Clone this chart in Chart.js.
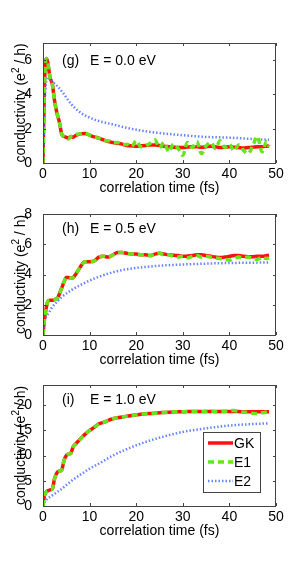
<!DOCTYPE html>
<html>
<head>
<meta charset="utf-8">
<script src="https://cdn.jsdelivr.net/npm/chart.js"></script>
<style>
  body { margin: 0; background: #fff; width: 305px; height: 571px; position: relative; overflow: hidden; }
  canvas { position: absolute; left: 0; }
</style>
</head>
<body>
<canvas id="panelG" width="305" height="200" style="top:0px"></canvas>
<canvas id="panelH" width="305" height="170" style="top:200px"></canvas>
<canvas id="panelI" width="305" height="201" style="top:370px"></canvas>
<script>
  // time axis (fs) shared by GK and E1, coarser one for E2
  const time = [0, 0.3, 0.7, 1, 1.5, 2, 2.5, 3, 3.5, 4, 4.5, 5, 5.5, 6, 6.5, 7, 8, 9, 10, 11, 12, 13, 14, 15, 16, 17, 18, 19,
    20, 21, 22, 23, 24, 25, 26, 27, 28, 29, 30, 31, 32, 33, 34, 35, 36, 37, 38, 39, 40, 41, 42, 43, 44, 45, 46, 47, 48, 48.5];
  const timeE2 = [0, 0.3, 0.7, 1, 1.5, 2, 3, 4, 6, 8, 10, 12, 15, 18, 22, 26, 30, 35, 40, 45, 48.5];

  // (g) E = 0.0 eV
  const gkG = [0, 4.5, 6.1, 5.9, 5.0, 4.6, 3.6, 2.9, 2.4, 1.7, 1.55, 1.5, 1.45, 1.55, 1.5, 1.6, 1.7, 1.72, 1.62, 1.52, 1.45, 1.35, 1.25, 1.2, 1.15, 1.1, 1.02, 1.0,
    0.98, 1.0, 1.02, 1.05, 1.05, 1.02, 0.98, 0.95, 0.92, 0.9, 0.9, 0.93, 0.95, 0.95, 0.92, 0.95, 0.97, 0.95, 0.9, 0.92, 0.95, 0.92, 0.9, 0.88, 0.9, 0.92, 0.95, 0.95, 0.98, 1.0];
  const e1G = [0, 4.5, 6.1, 5.9, 5.0, 4.6, 3.6, 2.9, 2.4, 1.7, 1.55, 1.45, 1.4, 1.55, 1.55, 1.65, 1.7, 1.75, 1.62, 1.52, 1.45, 1.3, 1.3, 1.2, 1.2, 1.05, 1.1, 0.95,
    1.3, 0.95, 1.0, 1.15, 1.35, 0.9, 1.2, 0.65, 1.1, 0.85, 0.45, 1.2, 0.9, 1.25, 0.55, 1.0, 1.2, 0.85, 1.3, 0.9, 1.1, 0.7, 1.05, 0.75, 0.55, 1.0, 1.55, 0.65, 1.25, 0.95];
  const e2G = [0, 3.0, 4.8, 5.0, 4.9, 4.75, 4.5, 4.2, 3.45, 2.95, 2.65, 2.45, 2.25, 2.05, 1.85, 1.72, 1.62, 1.52, 1.48, 1.4, 1.35];

  // (h) E = 0.5 eV
  const gkH = [0, 1.0, 1.8, 2.2, 2.3, 2.3, 2.35, 2.4, 2.7, 3.1, 3.5, 3.8, 3.8, 3.75, 3.8, 4.0, 4.5, 4.85, 4.85, 4.9, 5.15, 5.2, 5.15, 5.3, 5.45, 5.45, 5.4, 5.35,
    5.35, 5.3, 5.3, 5.25, 5.35, 5.4, 5.35, 5.3, 5.28, 5.25, 5.2, 5.22, 5.25, 5.3, 5.3, 5.25, 5.2, 5.15, 5.12, 5.15, 5.2, 5.25, 5.25, 5.2, 5.18, 5.18, 5.2, 5.2, 5.25, 5.28];
  const e1H = [0, 1.0, 1.8, 2.2, 2.3, 2.3, 2.35, 2.4, 2.7, 3.1, 3.5, 3.8, 3.8, 3.75, 3.8, 4.0, 4.5, 4.85, 4.85, 4.9, 5.15, 5.2, 5.15, 5.3, 5.45, 5.45, 5.4, 5.35,
    5.35, 5.3, 5.3, 5.25, 5.35, 5.4, 5.3, 5.3, 5.2, 5.15, 5.2, 5.1, 5.2, 5.25, 5.15, 5.2, 5.15, 5.1, 5.05, 5.0, 4.95, 5.05, 5.15, 5.1, 5.15, 5.05, 5.0, 5.15, 5.05, 5.1];
  const e2H = [0, 0.9, 1.2, 1.35, 1.6, 1.85, 2.2, 2.5, 2.95, 3.3, 3.6, 3.85, 4.15, 4.35, 4.5, 4.6, 4.66, 4.72, 4.76, 4.78, 4.8];

  // (i) E = 1.0 eV
  const gkI = [0, 2.0, 2.8, 3.0, 3.2, 3.4, 5.5, 6.6, 6.9, 7.1, 9.0, 10.0, 10.3, 10.5, 11.8, 12.3, 13.3, 14.2, 15.0, 15.6, 16.3, 16.6, 17.0, 17.3, 17.5, 17.65, 17.8, 17.95,
    18.1, 18.2, 18.3, 18.35, 18.4, 18.5, 18.55, 18.6, 18.65, 18.7, 18.7, 18.72, 18.72, 18.75, 18.75, 18.75, 18.75, 18.75, 18.75, 18.75, 18.75, 18.72, 18.72, 18.7, 18.7, 18.7, 18.7, 18.7, 18.7, 18.7];
  const e1I = [0, 2.0, 2.8, 3.0, 3.2, 3.4, 5.5, 6.6, 6.9, 7.1, 9.0, 10.0, 10.3, 10.5, 11.8, 12.3, 13.3, 14.2, 15.0, 15.6, 16.3, 16.6, 17.0, 17.3, 17.5, 17.65, 17.8, 17.95,
    18.1, 18.2, 18.3, 18.35, 18.4, 18.5, 18.55, 18.6, 18.65, 18.7, 18.7, 18.72, 18.72, 18.75, 18.7, 18.75, 18.85, 18.7, 18.75, 18.8, 18.9, 18.95, 18.7, 18.6, 18.55, 18.4, 18.3, 18.5, 18.6, 18.55];
  const e2I = [0, 0.8, 1.2, 1.5, 1.8, 2.1, 2.75, 3.4, 4.9, 6.2, 7.4, 8.4, 10.0, 11.3, 12.7, 13.8, 14.7, 15.4, 15.95, 16.25, 16.4];

  const xTicks = [0, 10, 20, 30, 40, 50];
  const yTicksG = [0, 2, 4, 6];
  const yTicksH = [0, 2, 4, 6, 8];
  const yTicksI = [0, 5, 10, 15, 20];
  const seriesNames = ['GK', 'E1', 'E2'];
  const xTitle = 'correlation time (fs)';
  const yTitle = 'conductivity (e';

  const RED = '#ff1010';
  const GREEN = '#66e61a';
  const BLUE = 'rgba(80,110,255,0.85)';
  const FONT = "'Liberation Sans', Arial, sans-serif";

  Chart.defaults.font.family = FONT;
  Chart.defaults.font.size = 14;
  Chart.defaults.color = '#000';

  function pts(xs, ys) {
    return ys.map((y, i) => ({ x: xs[i], y: y }));
  }

  // box around the plot, inward ticks, axis texts, panel caption and optional legend
  const framePlugin = {
    id: 'frame',
    afterDraw(chart, args, opts) {
      const ctx = chart.ctx, a = chart.chartArea;
      const xs = chart.scales.x, ys = chart.scales.y;
      ctx.save();
      ctx.strokeStyle = '#444';
      ctx.lineWidth = 1;
      ctx.strokeRect(Math.round(a.left) + 0.5, Math.round(a.top) + 0.5, Math.round(a.right - a.left) - 1, Math.round(a.bottom - a.top));
      ctx.beginPath();
      xTicks.forEach(v => {
        const px = Math.round(xs.getPixelForValue(v)) + 0.5;
        ctx.moveTo(px, a.bottom); ctx.lineTo(px, a.bottom - 3);
        ctx.moveTo(px, a.top); ctx.lineTo(px, a.top + 3);
      });
      ys.ticks.forEach(t => {
        const py = Math.round(ys.getPixelForValue(t.value)) + 0.5;
        ctx.moveTo(a.left, py); ctx.lineTo(a.left + 3, py);
        ctx.moveTo(a.right, py); ctx.lineTo(a.right - 3, py);
      });
      ctx.stroke();

      ctx.fillStyle = '#000';
      ctx.font = '14px ' + FONT;
      ctx.textBaseline = 'middle';

      // x tick labels and x title
      ctx.textAlign = 'center';
      xTicks.forEach(v => ctx.fillText(String(v), xs.getPixelForValue(v), a.bottom + 11));
      ctx.fillText(xTitle, (a.left + a.right) / 2, a.bottom + 25);

      // y title, rotated, with superscript 2
      ctx.save();
      ctx.translate(21, (a.top + a.bottom) / 2);
      ctx.rotate(-Math.PI / 2);
      const w1 = ctx.measureText(yTitle).width;
      const w3 = ctx.measureText(' / h)').width;
      ctx.font = '10px ' + FONT;
      const w2 = ctx.measureText('2').width;
      const start = -(w1 + w2 + w3) / 2;
      ctx.textAlign = 'left';
      ctx.fillText('2', start + w1, -5);
      ctx.font = '14px ' + FONT;
      ctx.fillText(yTitle, start, 0);
      ctx.fillText(' / h)', start + w1 + w2, 0);
      ctx.restore();

      ctx.textAlign = 'left';
      ctx.fillText(opts.tag, a.left + 19, a.top + opts.captionY);
      ctx.fillText(opts.caption, a.left + 47, a.top + opts.captionY);

      if (opts.legend) {
        const bx = a.right - 73, by = a.top + 47, bw = 57, bh = 60;
        ctx.fillStyle = '#fff';
        ctx.fillRect(bx, by, bw, bh);
        ctx.strokeStyle = '#444';
        ctx.strokeRect(bx + 0.5, by + 0.5, bw, bh);
        chart.data.datasets.forEach((ds, i) => {
          const y = by + 11 + i * 19;
          ctx.beginPath();
          ctx.strokeStyle = ds.borderColor;
          ctx.lineWidth = ds.borderWidth;
          ctx.setLineDash(ds.borderDash || []);
          ctx.moveTo(bx + 5, y); ctx.lineTo(bx + 30, y);
          ctx.stroke();
          ctx.setLineDash([]);
          ctx.fillStyle = '#000';
          ctx.fillText(seriesNames[i], bx + 31, y + 1);
        });
      }
      ctx.restore();
    }
  };

  function makePanel(id, gk, e1, e2, yMax, yTicks, cfg) {
    new Chart(document.getElementById(id), {
      type: 'line',
      data: {
        datasets: [
          { label: seriesNames[0], data: pts(time, gk), borderColor: RED, borderWidth: 3.5, order: 3 },
          { label: seriesNames[1], data: pts(time, e1), borderColor: GREEN, borderWidth: 3.5, borderDash: [6, 4], order: 1 },
          { label: seriesNames[2], data: pts(timeE2, e2), borderColor: BLUE, borderWidth: 2.5, borderDash: [1.5, 2], order: 2 }
        ]
      },
      options: {
        responsive: false,
        animation: false,
        devicePixelRatio: 1,
        elements: { point: { radius: 0 }, line: { cubicInterpolationMode: 'monotone', borderCapStyle: 'butt' } },
        layout: { padding: { left: 0, right: 29, top: cfg.padTop, bottom: cfg.padBottom } },
        plugins: {
          legend: { display: false },
          tooltip: { enabled: false },
          frame: { tag: cfg.tag, caption: cfg.caption, captionY: cfg.captionY, legend: cfg.legend }
        },
        scales: {
          x: {
            type: 'linear', min: 0, max: 50,
            afterBuildTicks: s => { s.ticks = xTicks.map(v => ({ value: v })); },
            afterFit: s => { s.height = cfg.xHeight; },
            grid: { display: false },
            border: { display: false },
            ticks: { display: false }
          },
          y: {
            min: 0, max: yMax,
            afterBuildTicks: s => { s.ticks = yTicks.map(v => ({ value: v })); },
            afterFit: s => { s.width = 43; },
            grid: { display: false },
            border: { display: false },
            ticks: { padding: 3 }
          }
        }
      },
      plugins: [framePlugin]
    });
  }

  makePanel('panelG', gkG, e1G, e2G, 7, yTicksG,
    { padTop: 43, padBottom: 4, xHeight: 33, tag: '(g)', caption: 'E = 0.0 eV', captionY: 18, legend: false });
  makePanel('panelH', gkH, e1H, e2H, 8, yTicksH,
    { padTop: 14, padBottom: 3, xHeight: 32, tag: '(h)', caption: 'E = 0.5 eV', captionY: 15, legend: false });
  makePanel('panelI', gkI, e1I, e2I, 24, yTicksI,
    { padTop: 15, padBottom: 32, xHeight: 33, tag: '(i)', caption: 'E = 1.0 eV', captionY: 15, legend: true });
</script>
</body>
</html>
